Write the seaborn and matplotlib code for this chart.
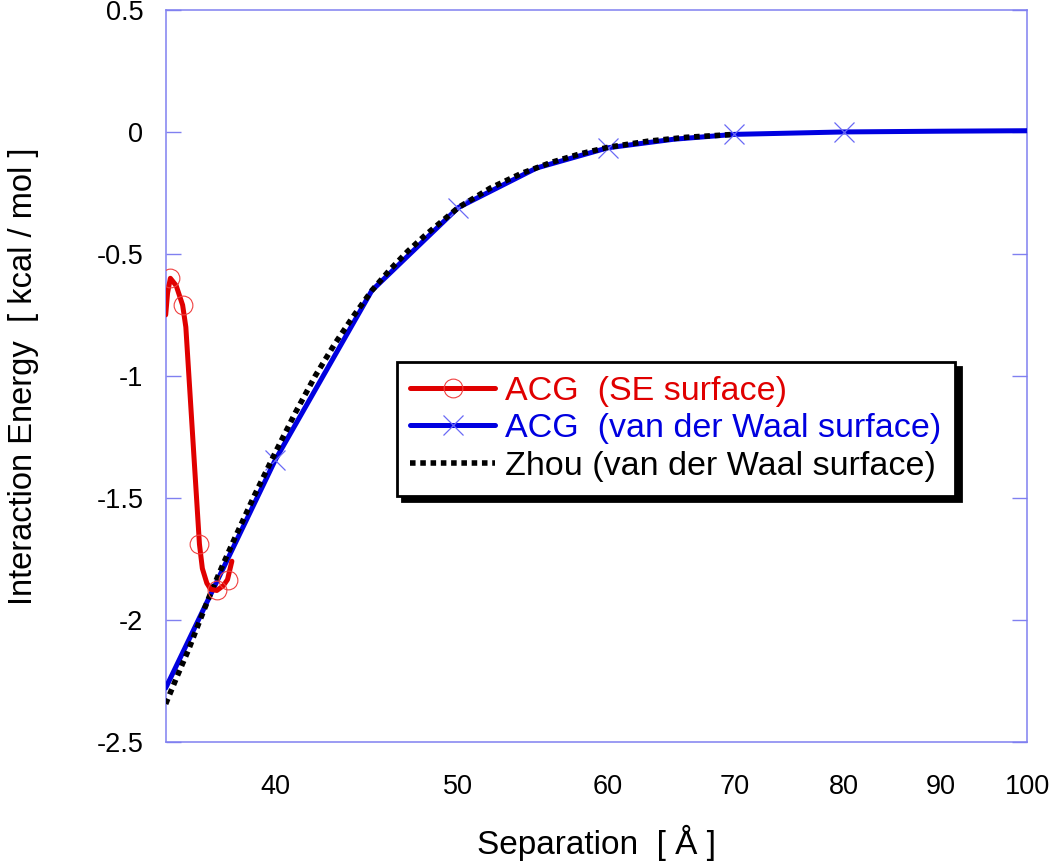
import numpy as np
import pandas as pd
import seaborn as sns
import matplotlib.pyplot as plt
from matplotlib.ticker import FixedLocator, FixedFormatter, NullLocator

# ACG (SE surface) - red curve
se_x = [35.0, 35.08, 35.2, 35.45, 35.73, 35.87, 36.47, 36.6, 36.8, 36.97, 37.25, 37.55, 37.74, 37.94]
se_y = [-0.75, -0.66, -0.60, -0.63, -0.71, -0.80, -1.69, -1.79, -1.85, -1.875, -1.88, -1.86, -1.835, -1.76]
se_marks = [2, 4, 6, 10, 12]

# ACG (van der Waal surface) - blue
vdw_x = [35, 40, 45, 50, 55, 60, 65, 70, 80, 90, 100]
vdw_y = [-2.28, -1.345, -0.65, -0.31, -0.148, -0.065, -0.03, -0.01, 0.0, 0.003, 0.005]
vdw_marks = [1, 3, 5, 7, 8]

# Zhou (van der Waal surface) - black dotted
zhou_x = [35, 35.5, 36, 36.5, 37, 37.5, 38, 39, 40, 41, 42, 43, 44, 45, 46, 47, 48,
          50, 52, 54, 56, 58, 60, 63, 66, 70]
zhou_y = [-2.345, -2.23, -2.12, -2.0, -1.885, -1.78, -1.68, -1.49, -1.315, -1.15, -1.0,
          -0.87, -0.755, -0.65, -0.565, -0.49, -0.425, -0.31, -0.23, -0.17, -0.125,
          -0.09, -0.063, -0.038, -0.022, -0.01]

x_ticks = [40, 50, 60, 70, 80, 90, 100]
y_ticks = [0.5, 0, -0.5, -1, -1.5, -2, -2.5]
y_labels = ["0.5", "0", "-0.5", "-1", "-1.5", "-2", "-2.5"]

red = "#e00000"
blue = "#0000e0"
frame_col = "#8080f0"

sns.set_style("white")
plt.rcParams["font.family"] = ["Liberation Sans", "DejaVu Sans"]
plt.rcParams["axes.unicode_minus"] = False
plt.rcParams["text.color"] = "black"
plt.rcParams["axes.labelcolor"] = "black"

fig = plt.figure(figsize=(10.5, 8.68), dpi=100)
ax = fig.add_axes([0.1578, 0.1455, 0.8203, 0.843])

sns.lineplot(x=vdw_x, y=vdw_y, ax=ax, color=blue, lw=3.6, sort=False,
             marker="x", markevery=vdw_marks, markersize=14, markeredgewidth=0.9,
             markeredgecolor="#6a6af5", label="ACG  (van der Waal surface)", zorder=3)
sns.lineplot(x=zhou_x, y=zhou_y, ax=ax, color="black", lw=4, sort=False,
             linestyle=(0, (1.0, 0.85)), label="Zhou (van der Waal surface)", zorder=4)
sns.lineplot(x=se_x, y=se_y, ax=ax, color=red, lw=3.6, sort=False,
             marker="o", markevery=se_marks, markersize=13.5, markeredgewidth=0.8,
             markerfacecolor="none", markeredgecolor="#f04040",
             label="ACG  (SE surface)", zorder=5)

ax.set_xscale("log")
ax.set_xlim(35, 100)
ax.set_ylim(-2.5, 0.5)
ax.xaxis.set_major_locator(FixedLocator(x_ticks))
ax.xaxis.set_major_formatter(FixedFormatter([str(t) for t in x_ticks]))
ax.xaxis.set_minor_locator(NullLocator())
ax.yaxis.set_major_locator(FixedLocator(y_ticks))
ax.yaxis.set_major_formatter(FixedFormatter(y_labels))

ax.tick_params(axis="x", length=0, pad=23, labelsize=19.5, labelcolor="black")
ax.tick_params(axis="y", which="major", direction="in", length=11, width=1,
               color=frame_col, left=True, right=True, pad=16, labelsize=19.5,
               labelcolor="black")
for s in ax.spines.values():
    s.set_color(frame_col)
    s.set_linewidth(1.1)

ax.set_xlabel("Separation  [ Å ]", fontsize=24, labelpad=18)
ax.set_ylabel("Interaction Energy  [ kcal / mol ]", fontsize=23.5)
ax.yaxis.set_label_coords(-0.147, 0.5)

h, l = ax.get_legend_handles_labels()
order = [2, 0, 1]
leg = ax.legend([h[i] for i in order], [l[i] for i in order],
                loc="upper left", bbox_to_anchor=(0.268, 0.519), borderaxespad=0,
                fontsize=24.5, handlelength=2.5, handletextpad=0.3, labelspacing=0.2,
                borderpad=0.4, fancybox=False, framealpha=1, edgecolor="black",
                labelcolor="linecolor",
                shadow={"ox": 4, "oy": -4, "color": "black", "alpha": 1})
leg.get_frame().set_linewidth(2)

fig.savefig("out.png", dpi=100)
